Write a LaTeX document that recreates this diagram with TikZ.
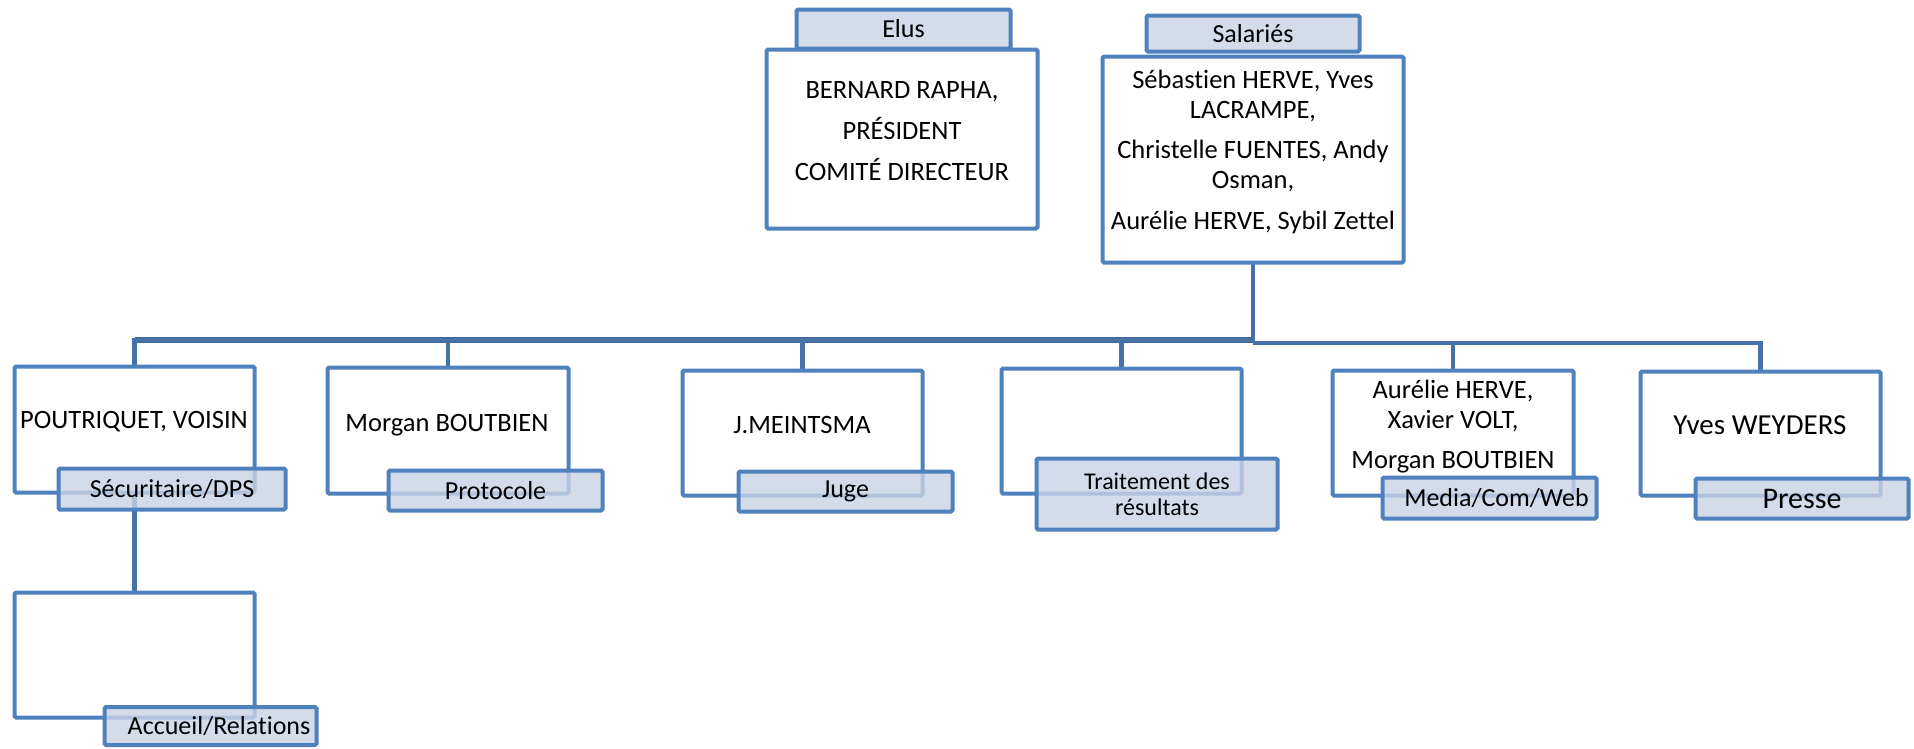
\documentclass[tikz,border=0pt]{standalone}
\usepackage{fontspec}
\setmainfont{Carlito}[RawFeature=-liga]
\definecolor{bord}{HTML}{4F81BD}
\definecolor{connc}{HTML}{4672A8}
\definecolor{busc}{HTML}{3F6696}
\definecolor{labf}{HTML}{C9D3E5}
\begin{document}
\begin{tikzpicture}[x=1pt,y=-1pt,
  mainbox/.style={draw=bord, line width=4pt, fill=white, rounded corners=1.5pt, inner sep=0pt},
  labbox/.style={draw=bord, line width=4pt, fill=labf, fill opacity=0.8, text opacity=1, rounded corners=1.5pt, inner sep=0pt, align=center, font=\fontsize{26}{29}\selectfont},
  txt/.style={inner sep=0pt, anchor=base, align=center, font=\fontsize{26.5}{29.5}\selectfont},
  conn/.style={draw=connc, line width=4.5pt},
  busline/.style={draw=busc, line width=6.5pt},
]
\useasboundingbox (0,0) rectangle (1914,748);

% coordinates for the bus
\coordinate (bj) at (1253,340);
\coordinate (bj2) at (1253,343);

% main box frames (placed first so connectors can use them)
\path
  (902,139)     node[mainbox, draw=none, fill=none, minimum width=267, minimum height=175] (elus) {}
  (1253,159.5)  node[mainbox, draw=none, fill=none, minimum width=297, minimum height=202] (sal) {}
  (134.5,429.5) node[mainbox, draw=none, fill=none, minimum width=236, minimum height=122] (b1) {}
  (448,430.5)   node[mainbox, draw=none, fill=none, minimum width=237, minimum height=122] (b2) {}
  (802.5,433)   node[mainbox, draw=none, fill=none, minimum width=236, minimum height=121] (b3) {}
  (1121.5,431)  node[mainbox, draw=none, fill=none, minimum width=236, minimum height=121] (b4) {}
  (1453,433)    node[mainbox, draw=none, fill=none, minimum width=237, minimum height=121] (b5) {}
  (1760.5,433.5) node[mainbox, draw=none, fill=none, minimum width=236, minimum height=120] (b6) {}
  (134.5,655)   node[mainbox, draw=none, fill=none, minimum width=236, minimum height=121] (acc) {};

% connectors
\draw[conn] (sal.south) -- (bj2);
\draw[busline] (b1.north |- bj) -- (bj);
\draw[conn] (b1.north) |- (bj);
\draw[conn] (b2.north) |- (bj);
\draw[conn] (b3.north) |- (bj);
\draw[conn] (b4.north) |- (bj);
\draw[conn] (b5.north) |- (bj2);
\draw[conn] (b6.north) |- (bj2);
\draw[conn] (b1.south) -- (acc.north);

% draw main boxes
\foreach \n in {elus,sal,b1,b2,b3,b4,b5,b6,acc}{
  \draw[draw=bord, line width=4pt, fill=white, rounded corners=1.5pt] (\n.north west) rectangle (\n.south east);
}

% label boxes
\node[labbox, minimum width=214, minimum height=39] (eluslab) at (903.5,29) {Elus};
\node[labbox, minimum width=213, minimum height=36] (sallab) at (1253,33.5) {Salariés};
\node[labbox, minimum width=227, minimum height=41] (l1) at (172,489) {Sécuritaire/DPS};
\node[labbox, minimum width=214, minimum height=40] (l2) at (495.5,490.5) {Protocole};
\node[labbox, minimum width=214, minimum height=40] (l3) at (845.5,491.5) {Juge};
\node[labbox, minimum width=241, minimum height=71, font=\fontsize{24}{26}\selectfont] (l4) at (1157,494) {Traitement des\\résultats};
\node[labbox, minimum width=214, minimum height=41] (l5) at (1489.5,498) {\hspace*{14pt}Media/Com/Web};
\node[labbox, minimum width=213, minimum height=40, font=\fontsize{30}{32}\selectfont] (l6) at (1802,498.5) {Presse};
\node[labbox, minimum width=212, minimum height=38] (l7) at (210.5,726) {\hspace*{17pt}Accueil/Relations};

% texts (base anchor = baseline of the last line)
\node[txt, font=\fontsize{26.5}{41}\selectfont] (telus) at (902,180.4) {BERNARD RAPHA,\\PRÉSIDENT\\COMITÉ DIRECTEUR};
\node[txt] (tsal) at (1253,229.4) {Sébastien HERVE, Yves\\LACRAMPE,\\[11pt]Christelle FUENTES, Andy\\Osman,\\[11.5pt]Aurélie HERVE, Sybil Zettel};
\node[txt] (t1) at (134,428.4) {POUTRIQUET, VOISIN};
\node[txt] (t2) at (447,431.4) {Morgan BOUTBIEN};
\node[txt] (t3) at (802,433.4) {J.MEINTSMA};
\node[txt] (t5) at (1453,468.4) {Aurélie HERVE,\\Xavier VOLT,\\[10.5pt]Morgan BOUTBIEN};
\node[txt, font=\fontsize{29}{32}\selectfont] (t6) at (1760,434.5) {Yves WEYDERS};
\end{tikzpicture}
\end{document}
